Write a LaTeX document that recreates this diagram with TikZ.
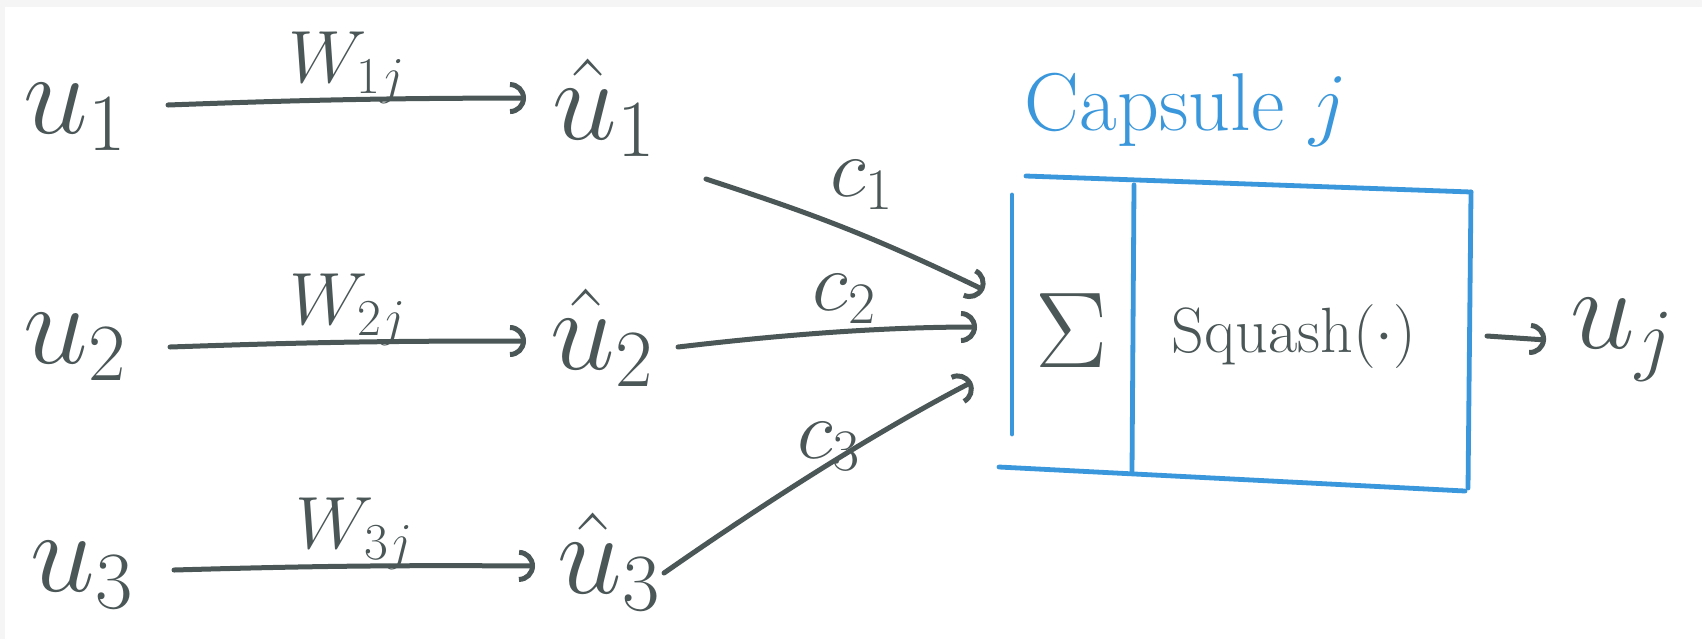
\RequirePackage{fix-cm}
\documentclass[tikz,border=0pt]{standalone}
\usetikzlibrary{arrows.meta,calc}
\definecolor{ink}{HTML}{4B5656}
\definecolor{capblue}{HTML}{3A97DB}
\tikzset{
  lbl/.style={text=ink,inner sep=0pt},
  bigu/.style={lbl,font=\fontsize{58}{64}\selectfont},
  wlab/.style={lbl,font=\fontsize{37}{42}\selectfont},
  clab/.style={lbl,font=\fontsize{42}{46}\selectfont},
  con/.style={draw=ink,line width=2.5pt,line cap=round,-{Arc Barb[width=16pt,length=8pt,line width=2.5pt]}},
  boxline/.style={draw=capblue,line width=2.4pt,line cap=round},
}
\begin{document}
\begin{tikzpicture}[x=0.5pt,y=-0.5pt]
\fill[gray!8] (0,0) rectangle (1702,639);
\fill[white] (5,7) rectangle (1702,639);
\useasboundingbox (0,0) rectangle (1702,639);

% inputs
\node[bigu] (u1) at (75,117) {$u_1$};
\node[bigu] (u2) at (75,347) {$u_2$};
\node[bigu] (u3) at (82,575) {$u_3$};
% predictions
\node[bigu] (uh1) at (604,108) {$\hat{u}_1$};
\node[bigu] (uh2) at (602,338) {$\hat{u}_2$};
\node[bigu] (uh3) at (609,562) {$\hat{u}_3$};

% weight arrows
\draw[con] ([shift={(93,-12)}]u1.center) to[bend left=1]
  node[wlab,midway,above=-3pt] (w1) {$W_{1j}$} ([shift={(-78,-10)}]uh1.center);
\draw[con] ([shift={(95,0)}]u2.center) to[bend left=1]
  node[wlab,midway,above=-3pt] (w2) {$W_{2j}$} ([shift={(-76,3)}]uh2.center);
\draw[con] ([shift={(92,-5)}]u3.center) to[bend left=1]
  node[wlab,midway,above=-3pt] (w3) {$W_{3j}$} ([shift={(-74,4)}]uh3.center);

% capsule box
\coordinate (in1) at (984,290);
\coordinate (in2) at (977,327);
\coordinate (in3) at (972,382);
\draw[boxline] (1026,176) -- (1471,192);
\draw[boxline] (1012,195) -- (1012,434);
\draw[boxline] (1134,185) -- (1132,472);
\draw[boxline] (1471,192) -- (1468,488);
\draw[boxline] (999,467) -- (1465,491);

\node[text=capblue,inner sep=0pt,font=\fontsize{41}{46}\selectfont] (cap) at (1186,110) {Capsule $j$};
\node[lbl,font=\fontsize{54}{60}\selectfont] (sig) at (1072,331) {$\Sigma$};
\node[lbl,font=\fontsize{32}{36}\selectfont] (sq) at (1294,336) {Squash$(\cdot)$};
\node[bigu] (uj) at (1622,340) {$u_j$};

% coupling connectors
\draw[con] ([shift={(102,71)}]uh1.center) .. controls (800,210) and (860,230) .. (in1)
  node[clab,pos=0.5,above=6pt,xshift=14pt] (c1) {$c_1$};
\draw[con] ([shift={(76,9)}]uh2.center) .. controls (780,335) and (880,327) .. (in2)
  node[clab,pos=0.55,above=3pt] (c2) {$c_2$};
\draw[con] ([shift={(55,11)}]uh3.center) .. controls (740,520) and (860,440) .. (in3)
  node[clab,pos=0.55,above=-2pt,xshift=4pt] (c3) {$c_3$};

% output
\draw[con] (1487,336) -- ([xshift=-12pt]uj.west);
\end{tikzpicture}
\end{document}
